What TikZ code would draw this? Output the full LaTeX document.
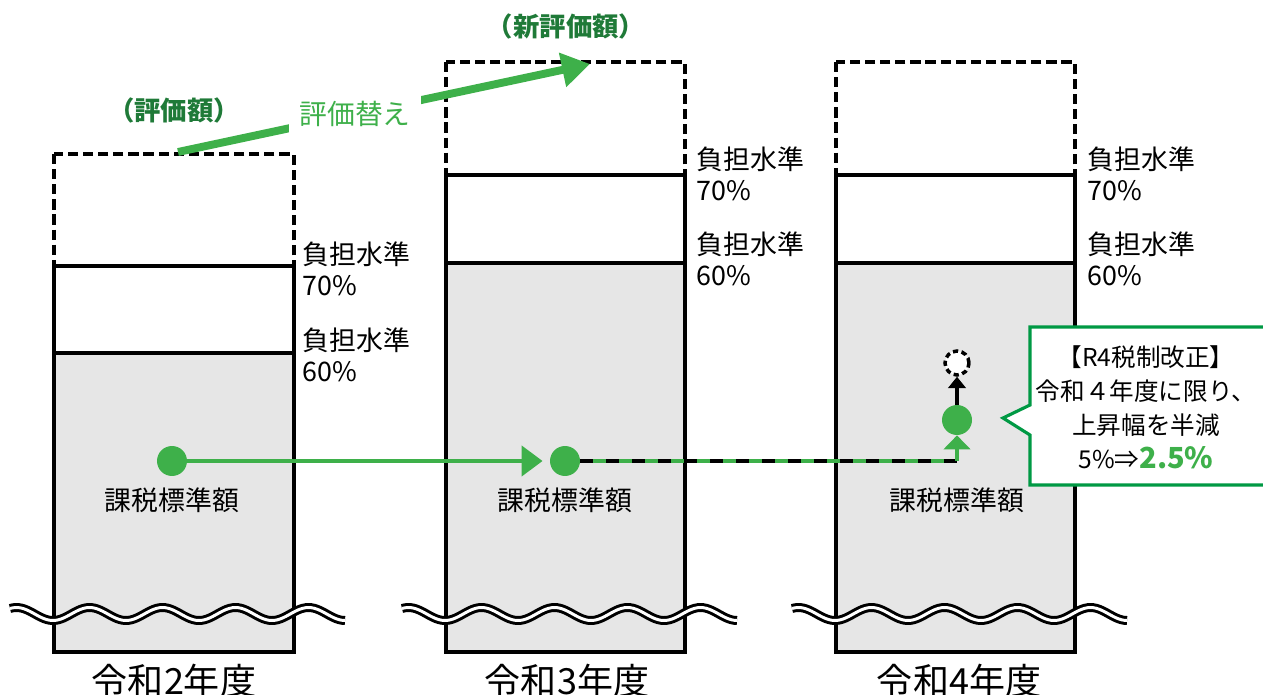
\documentclass[tikz,border=0pt]{standalone}
\usepackage{fontspec}
\setmainfont{Noto Sans CJK JP}
\usetikzlibrary{arrows.meta}
\definecolor{hgreen}{HTML}{3EB04A}
\definecolor{dgreen}{HTML}{1F7A38}
\definecolor{cgreen}{HTML}{009944}
\definecolor{lgray}{HTML}{E6E6E6}

\begin{document}
\begin{tikzpicture}[x=0.02cm,y=-0.02cm,
                    font=\fontsize{15.3}{17.6}\selectfont]
  \tikzstyle{every node}=[inner sep=0pt]
  \tikzstyle{box}=[draw=black,line width=2pt]
  \tikzstyle{dbox}=[draw=black,line width=2.1pt,dash pattern=on 5.8pt off 2.8pt]
  \tikzstyle{wave}=[line width=1.7pt,double=white,double distance=1.7pt]
  \tikzstyle{level}=[anchor=west,align=left]
  \tikzstyle{dot}=[circle,fill=hgreen,minimum size=0.6cm]
  \tikzstyle{ghost}=[circle,draw=black,fill=white,line width=2pt,
                     dash pattern=on 3pt off 2pt,minimum size=0.48cm]
  \tikzstyle{garrow}=[hgreen,line width=2.8pt,-{Triangle[length=12pt,width=17pt]}]
  \tikzstyle{barrow}=[black,line width=2.3pt,-{Triangle[length=6.5pt,width=10pt]}]
  \tikzstyle{year}=[font=\fontsize{20.5}{24}\selectfont]

  \useasboundingbox (0,0) rectangle (1263,695);

  % column R2
  \draw[dbox] (54,154) rectangle (294,266);
  \fill[lgray] (54,353) rectangle (294,652);
  \draw[box] (54,266) rectangle (294,652);
  \draw[box] (54,353) -- (294,353);
  \draw[wave] plot[domain=10:345,samples=120] (\x,{614+6.5*cos(4.9315*(\x-53))});
  \node[level] (r2a) at (302,269) {負担水準\\70\%};
  \node[level] (r2b) at (302,355) {負担水準\\60\%};
  \node (r2base) at (172,500) {課税標準額};
  \node[year] (r2) at (174,681) {令和2年度};

  % column R3
  \draw[dbox] (446,62) rectangle (685,175);
  \fill[lgray] (446,263) rectangle (685,652);
  \draw[box] (446,175) rectangle (685,652);
  \draw[box] (446,263) -- (685,263);
  \draw[wave] plot[domain=402:737,samples=120] (\x,{614+6.5*cos(4.9315*(\x-445))});
  \node[level] (r3a) at (696,174) {負担水準\\70\%};
  \node[level] (r3b) at (696,259) {負担水準\\60\%};
  \node (r3base) at (565,500) {課税標準額};
  \node[year] (r3) at (567,681) {令和3年度};

  % column R4
  \draw[dbox] (836,62) rectangle (1075,175);
  \fill[lgray] (836,263) rectangle (1075,652);
  \draw[box] (836,175) rectangle (1075,652);
  \draw[box] (836,263) -- (1075,263);
  \draw[wave] plot[domain=792:1127,samples=120] (\x,{614+6.5*cos(4.9315*(\x-835))});
  \node[level] (r4a) at (1087,174) {負担水準\\70\%};
  \node[level] (r4b) at (1087,259) {負担水準\\60\%};
  \node (r4base) at (957,500) {課税標準額};
  \node[year] (r4) at (959,681) {令和4年度};

  % revaluation
  \node[text=dgreen,font=\fontsize{15}{17}\selectfont\bfseries] (old) at (174,110) {（評価額）};
  \node[text=dgreen,font=\fontsize{15}{17}\selectfont\bfseries] (new) at (566,26) {（新評価額）};
  \coordinate (from) at (178,152);
  \coordinate (to) at (590,64);
  \draw[hgreen,line width=4.5pt,-{Triangle[length=16pt,width=19pt]}] (from) --
    node[pos=0.43,fill=white,inner sep=6pt,text=hgreen,font=\fontsize{15.8}{18}\selectfont] (rev) {評価替え} (to);

  % tax base
  \node[dot] (d1) at (172,461) {};
  \node[dot] (d2) at (565,461) {};
  \node[dot] (d3) at (957,420) {};
  \node[ghost] (d4) at (957,363) {};
  \draw[garrow,shorten >=4pt] (d1) -- (d2);
  \draw[hgreen,line width=2.8pt] (d2) -- (d2 -| d3);
  \draw[black,line width=2.8pt,dash pattern=on 7.4pt off 7.4pt] (d2.east) -- (d2 -| d3);
  \draw[garrow,-{Triangle[length=8pt,width=15pt]}] (d2 -| d3) -- (d3);
  \draw[barrow] (d3) -- (d4);

  % note
  \draw[cgreen,line width=1.8pt,fill=white] (1030,327) -- (1275,327) -- (1275,485)
    -- (1030,485) -- (1030,435) -- (1003,418) -- (1030,405) -- cycle;
  \node[align=center,font=\fontsize{14}{19.3}\selectfont] (note) at (1146,407)
    {【R4税制改正】\\令和４年度に限り、\\上昇幅を半減\\5\%⇒{\color{hgreen}\fontsize{16.5}{19.3}\selectfont\bfseries 2.5\%}};
\end{tikzpicture}
\end{document}
